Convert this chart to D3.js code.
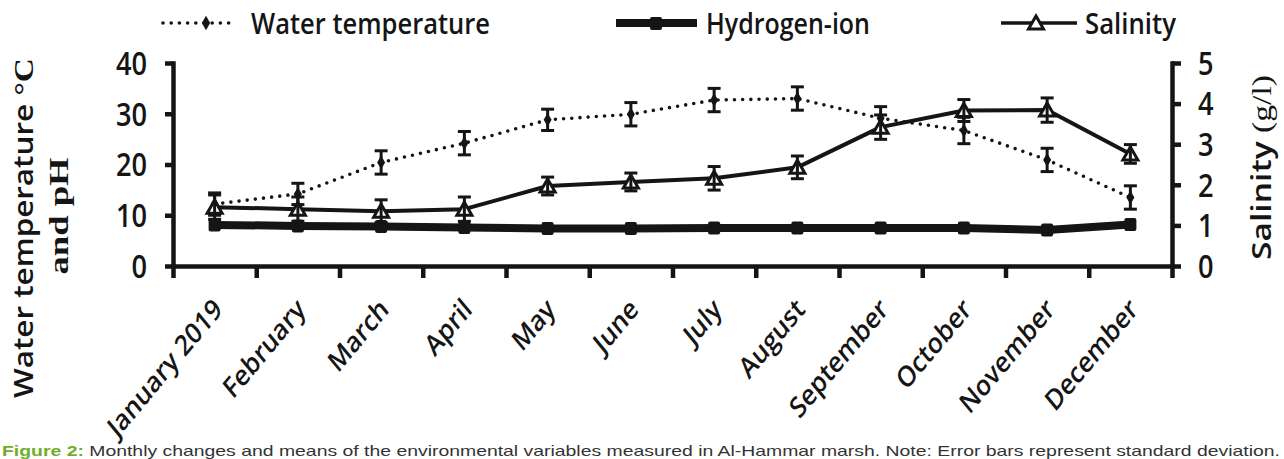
<!DOCTYPE html>
<html><head><meta charset="utf-8">
<script src="https://cdn.jsdelivr.net/npm/d3@7"></script>
<style>body{margin:0;background:#fff}svg{display:block}</style>
</head><body>
<svg id="c" width="1284" height="459"></svg>
<script>
// ---- data ----
const months = ["January 2019","February","March","April","May","June","July","August","September","October","November","December"];
const tempMean = [12.2,14.2,20.4,24.2,28.8,29.9,32.7,33.0,29.1,26.7,20.9,13.5];
const tempErr  = [2.2,2.1,2.3,2.3,2.1,2.3,2.3,2.3,2.3,2.6,2.3,2.3];
const phMean   = [8.1,7.9,7.8,7.6,7.4,7.4,7.5,7.5,7.5,7.5,7.1,8.2];
const salMean  = [1.45,1.4,1.35,1.4,1.97,2.07,2.16,2.43,3.42,3.83,3.84,2.76];
const salErr   = [0.3,0.3,0.28,0.3,0.22,0.22,0.29,0.28,0.3,0.27,0.3,0.23];
const leftTicks  = [0,10,20,30,40];
const rightTicks = [0,1,2,3,4,5];
const legendLabels = ["Water temperature","Hydrogen-ion","Salinity"];
const leftTitle = ["Water temperature", "\u00a0°C", "and pH"];
const rightTitle = ["Salinity", "\u00a0(g/l)"];
const caption = ["Figure 2:", " Monthly changes and means of the environmental variables measured in Al-Hammar marsh. Note: Error bars represent standard deviation."];

// ---- setup ----
const svg = d3.select("#c");
const INK = "#151515";
const SANS = "'Open Sans', sans-serif";
const SERIF = "'Liberation Serif', 'DejaVu Serif', serif";
const SX = 0.85;

const x = d3.scaleBand().domain(months).range([173, 1172]);
const cx = m => x(m) + x.bandwidth() / 2;
const xb = d3.scaleLinear().domain([0, months.length]).range([173, 1172]);
const yL = d3.scaleLinear().domain([0, 40]).range([266, 63]);
const yR = d3.scaleLinear().domain([0, 5]).range([266, 63]);

function styleAxis(g) {
  g.selectAll("path").attr("stroke", INK).attr("stroke-width", 4.5).attr("stroke-linecap", "square");
  g.selectAll("line").attr("stroke", INK).attr("stroke-width", 4.5);
}

// axes
svg.append("g").attr("transform", "translate(0,266)")
  .call(d3.axisBottom(xb).tickValues(d3.range(months.length + 1)).tickSize(12).tickSizeOuter(0).tickFormat(""))
  .call(styleAxis);
svg.append("g").attr("transform", "translate(173,0)")
  .call(d3.axisLeft(yL).tickValues(leftTicks).tickSize(8).tickSizeOuter(0).tickFormat(""))
  .call(styleAxis);
svg.append("g").attr("transform", "translate(1172,0)")
  .call(d3.axisRight(yR).tickValues(rightTicks).tickSize(9).tickSizeOuter(0).tickFormat(""))
  .call(styleAxis);

// tick labels
svg.append("g").selectAll("text").data(leftTicks).join("text")
  .attr("transform", d => `translate(147,${yL(d)}) scale(${SX},1)`)
  .attr("dy", "0.37em").attr("text-anchor", "end")
  .attr("font-family", SANS).attr("font-weight", 600).attr("font-size", 32).attr("fill", INK)
  .text(d => d);
svg.append("g").selectAll("text").data(rightTicks).join("text")
  .attr("transform", d => `translate(1198,${yR(d)}) scale(${SX},1)`)
  .attr("dy", "0.37em").attr("text-anchor", "start")
  .attr("font-family", SANS).attr("font-weight", 600).attr("font-size", 32).attr("fill", INK)
  .text(d => d);

// x labels
svg.append("g").selectAll("text").data(months).join("text")
  .attr("transform", d => `translate(${cx(d) + 9},311) scale(0.83,1) rotate(-45)`)
  .attr("text-anchor", "end")
  .attr("font-family", SANS).attr("font-weight", 600).attr("font-size", 29).attr("fill", INK)
  .text(d => d);

// ---- series ----
const idx = d3.range(months.length);
const lineT = d3.line().x(i => cx(months[i])).y(i => yL(tempMean[i]));
const lineP = d3.line().x(i => cx(months[i])).y(i => yL(phMean[i]));
const lineS = d3.line().x(i => cx(months[i])).y(i => yR(salMean[i]));

function errBars(g, means, errs, scale) {
  const eg = g.append("g").attr("stroke", INK).attr("stroke-width", 3).attr("fill", "none");
  idx.forEach(i => {
    const xc = cx(months[i]);
    const y1 = scale(means[i] + errs[i]), y0 = scale(means[i] - errs[i]);
    eg.append("line").attr("x1", xc).attr("x2", xc).attr("y1", y1).attr("y2", y0);
    eg.append("line").attr("x1", xc - 6.5).attr("x2", xc + 6.5).attr("y1", y1).attr("y2", y1);
    eg.append("line").attr("x1", xc - 6.5).attr("x2", xc + 6.5).attr("y1", y0).attr("y2", y0);
  });
}

// water temperature
const gT = svg.append("g");
gT.append("path").attr("d", lineT(idx)).attr("fill", "none").attr("stroke", INK)
  .attr("stroke-width", 3.6).attr("stroke-dasharray", "0 8.2").attr("stroke-linecap", "round");
errBars(gT, tempMean, tempErr, yL);
gT.selectAll("path.m").data(idx).join("path").attr("class", "m")
  .attr("d", d3.symbol(d3.symbolDiamond, 55)())
  .attr("transform", i => `translate(${cx(months[i])},${yL(tempMean[i])})`).attr("fill", INK);

// hydrogen-ion
const gP = svg.append("g");
gP.append("path").attr("d", lineP(idx)).attr("fill", "none").attr("stroke", INK)
  .attr("stroke-width", 8).attr("stroke-linejoin", "round");
gP.selectAll("rect").data(idx).join("rect")
  .attr("x", i => cx(months[i]) - 6).attr("y", i => yL(phMean[i]) - 6.5)
  .attr("width", 12).attr("height", 13).attr("rx", 2).attr("fill", INK);

// salinity
const gS = svg.append("g");
gS.append("path").attr("d", lineS(idx)).attr("fill", "none").attr("stroke", INK)
  .attr("stroke-width", 4).attr("stroke-linejoin", "round");
const tri = "M0,-7L7.5,6L-7.5,6Z";
gS.selectAll("path.t").data(idx).join("path").attr("class", "t").attr("d", tri)
  .attr("transform", i => `translate(${cx(months[i])},${yR(salMean[i])})`)
  .attr("fill", "#fff").attr("stroke", INK).attr("stroke-width", 3).attr("stroke-linejoin", "miter");
errBars(gS, salMean, salErr, yR);

// ---- legend ----
const lg = svg.append("g");
lg.append("line").attr("x1", 163).attr("x2", 236).attr("y1", 23).attr("y2", 23)
  .attr("stroke", INK).attr("stroke-width", 3.6).attr("stroke-dasharray", "0 8.2").attr("stroke-linecap", "round");
lg.append("path").attr("d", d3.symbol(d3.symbolDiamond, 60)()).attr("transform", "translate(206,23)").attr("fill", INK);
lg.append("line").attr("x1", 616).attr("x2", 697).attr("y1", 23).attr("y2", 23)
  .attr("stroke", INK).attr("stroke-width", 8);
lg.append("rect").attr("x", 650).attr("y", 17).attr("width", 12).attr("height", 13).attr("rx", 2).attr("fill", INK);
lg.append("line").attr("x1", 1001).attr("x2", 1077).attr("y1", 23).attr("y2", 23)
  .attr("stroke", INK).attr("stroke-width", 3.5);
lg.append("path").attr("d", tri).attr("transform", "translate(1036,23)")
  .attr("fill", "#fff").attr("stroke", INK).attr("stroke-width", 3);
const legX = [251, 706, 1085], legW = [239, 164, 91];
legendLabels.forEach((t, i) => {
  lg.append("text").attr("transform", `translate(${legX[i]},34) scale(${SX},1)`)
    .attr("font-family", SANS).attr("font-weight", 600).attr("font-size", 29).attr("fill", INK)
    .attr("textLength", legW[i] / SX).attr("lengthAdjust", "spacingAndGlyphs")
    .text(t);
});

// ---- axis titles ----
const t1 = svg.append("text").attr("transform", `translate(33,228) scale(${SX},1) rotate(-90)`)
  .attr("text-anchor", "middle").attr("fill", INK)
  .attr("textLength", 340).attr("lengthAdjust", "spacingAndGlyphs");
t1.append("tspan").attr("font-family", SANS).attr("font-weight", 600).attr("font-size", 31).text(leftTitle[0]);
t1.append("tspan").attr("font-family", SERIF).attr("font-weight", 700).attr("font-size", 33).text(leftTitle[1]);
svg.append("text").attr("transform", `translate(68,216) scale(${SX},1) rotate(-90)`)
  .attr("text-anchor", "middle").attr("fill", INK)
  .attr("font-family", SERIF).attr("font-weight", 700).attr("font-size", 31)
  .attr("textLength", 117).attr("lengthAdjust", "spacingAndGlyphs")
  .text(leftTitle[2]);
const t2 = svg.append("text").attr("transform", `translate(1271,167.5) scale(${SX},1) rotate(-90)`)
  .attr("text-anchor", "middle").attr("fill", INK)
  .attr("textLength", 185).attr("lengthAdjust", "spacingAndGlyphs");
t2.append("tspan").attr("font-family", SANS).attr("font-weight", 600).attr("font-size", 31).text(rightTitle[0]);
t2.append("tspan").attr("font-family", SERIF).attr("font-size", 31).text(rightTitle[1]);

// ---- caption ----
const cap = svg.append("text").attr("x", 2).attr("y", 456)
  .attr("font-family", "'Liberation Sans', Arial, sans-serif").attr("font-size", 15).attr("fill", "#333")
  .attr("textLength", 1278).attr("lengthAdjust", "spacingAndGlyphs");
cap.append("tspan").attr("fill", "#6fae2b").attr("font-weight", 700).text(caption[0]);
cap.append("tspan").text(caption[1]);
</script>
</body></html>
